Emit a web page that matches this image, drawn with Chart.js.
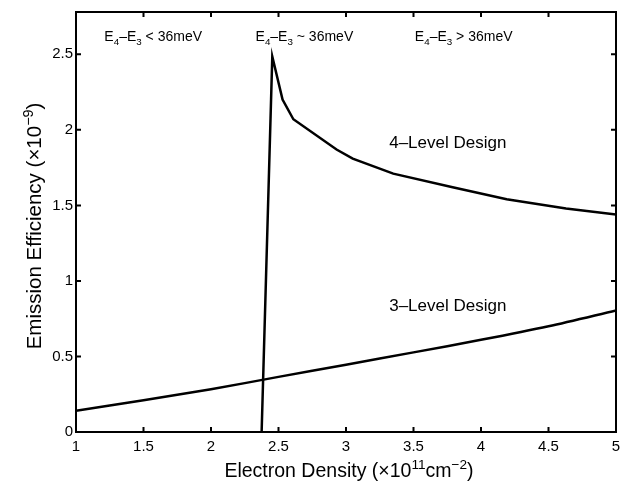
<!DOCTYPE html>
<html><head><meta charset="utf-8">
<script src="https://cdn.jsdelivr.net/npm/chart.js@4"></script>
<style>html,body{margin:0;padding:0;background:#fff}#wrap{width:628px;height:489px}</style>
</head><body><div id="wrap"><canvas id="c" width="628" height="489"></canvas></div>
<script>
// ---- data ----
const xTickValues = [1, 1.5, 2, 2.5, 3, 3.5, 4, 4.5, 5];
const yTickValues = [0, 0.5, 1, 1.5, 2, 2.5];
const density4Level = [2.375, 2.454, 2.53, 2.61, 2.93, 3.05, 3.35, 3.79, 4.19, 4.63, 5.0];
const efficiency4Level = [0, 2.485, 2.20, 2.07, 1.87, 1.81, 1.71, 1.62, 1.54, 1.48, 1.44];
const density3Level = [1, 1.5, 2, 2.5, 3, 3.5, 4, 4.5, 5];
const efficiency3Level = [0.14, 0.21, 0.283, 0.365, 0.445, 0.527, 0.61, 0.70, 0.805];

// ---- text (segments: 0 normal, 1 superscript, -1 subscript) ----
const xTitle = [["Electron Density (\u00d710", 0], ["11", 1], ["cm", 0], ["\u22122", 1], [")", 0]];
const yTitle = [["Emission Efficiency (\u00d710", 0], ["\u22129", 1], [")", 0]];
const regionLabels = [
  [["E", 0], ["4", -1], ["\u2013E", 0], ["3", -1], [" < 36meV", 0]],
  [["E", 0], ["4", -1], ["\u2013E", 0], ["3", -1], [" ~ 36meV", 0]],
  [["E", 0], ["4", -1], ["\u2013E", 0], ["3", -1], [" > 36meV", 0]]
];
const designLabels = [[["4\u2013Level Design", 0]], [["3\u2013Level Design", 0]]];

// ---- layout / style (not data) ----
const FONT = '"Liberation Sans", Arial, Helvetica, sans-serif';
const regionAnchors = [[1.21, 2.62], [2.33, 2.62], [3.51, 2.62]];
const designAnchors = [[3.32, 1.92], [3.32, 0.84]];

function fontStr(size) { return size + 'px ' + FONT; }
function richWidth(ctx, segs, size) {
  let w = 0;
  for (const [t, m] of segs) { ctx.font = fontStr(m ? size * 0.7 : size); w += ctx.measureText(t).width; }
  return w;
}
function drawRich(ctx, segs, x, yc, size, align) {
  const w = richWidth(ctx, segs, size);
  let cx = align === 'center' ? x - w / 2 : x;
  const base = yc + size * 0.35;
  ctx.textBaseline = 'alphabetic';
  ctx.textAlign = 'left';
  for (const [t, m] of segs) {
    const s = m ? size * 0.7 : size;
    ctx.font = fontStr(s);
    const dy = m === 1 ? -size * 0.42 : (m === -1 ? size * 0.28 : 0);
    ctx.fillText(t, cx, base + dy);
    cx += ctx.measureText(t).width;
  }
}

const framePlugin = {
  id: 'frame',
  afterDatasetsDraw(chart) {
    const { ctx, chartArea: a, scales: { x, y } } = chart;
    ctx.save();
    ctx.strokeStyle = '#000';
    ctx.fillStyle = '#000';
    ctx.lineWidth = 2;
    ctx.strokeRect(a.left, a.top, a.right - a.left, a.bottom - a.top);
    const tl = 5;
    ctx.beginPath();
    for (const v of xTickValues) {
      const px = x.getPixelForValue(v);
      ctx.moveTo(px, a.bottom); ctx.lineTo(px, a.bottom - tl);
      ctx.moveTo(px, a.top); ctx.lineTo(px, a.top + tl);
    }
    for (const v of yTickValues) {
      const py = y.getPixelForValue(v);
      ctx.moveTo(a.left, py); ctx.lineTo(a.left + tl, py);
      ctx.moveTo(a.right, py); ctx.lineTo(a.right - tl, py);
    }
    ctx.stroke();
    regionLabels.forEach((segs, i) => {
      drawRich(ctx, segs, x.getPixelForValue(regionAnchors[i][0]), y.getPixelForValue(regionAnchors[i][1]), 14, 'left');
    });
    designLabels.forEach((segs, i) => {
      drawRich(ctx, segs, x.getPixelForValue(designAnchors[i][0]), y.getPixelForValue(designAnchors[i][1]), 17, 'left');
    });
    drawRich(ctx, xTitle, (a.left + a.right) / 2 + 3, 470, 19.5, 'center');
    ctx.translate(34, (a.top + a.bottom) / 2 + 4);
    ctx.rotate(-Math.PI / 2);
    drawRich(ctx, yTitle, 0, 0, 20.5, 'center');
    ctx.restore();
  }
};

const tickFont = { family: FONT, size: 15 };
new Chart(document.getElementById('c'), {
  type: 'line',
  data: {
    datasets: [
      { label: '4-Level Design', data: density4Level.map((d, i) => ({ x: d, y: efficiency4Level[i] })),
        borderColor: '#000', borderWidth: 2.5, pointRadius: 0, tension: 0, fill: false },
      { label: '3-Level Design', data: density3Level.map((d, i) => ({ x: d, y: efficiency3Level[i] })),
        borderColor: '#000', borderWidth: 2.5, pointRadius: 0, tension: 0.3, fill: false }
    ]
  },
  options: {
    responsive: false,
    animation: false,
    devicePixelRatio: 1,
    layout: { padding: { left: 0, right: 12, top: 12, bottom: 0 } },
    plugins: { legend: { display: false }, tooltip: { enabled: false } },
    scales: {
      x: {
        type: 'linear', min: 1, max: 5,
        afterBuildTicks: s => { s.ticks = xTickValues.map(v => ({ value: v })); },
        afterFit: s => { s.height = 57; },
        grid: { display: false, drawTicks: false },
        border: { display: false },
        ticks: { font: tickFont, color: '#000', padding: 6, maxRotation: 0, autoSkip: false, callback: v => String(v) }
      },
      y: {
        type: 'linear', min: 0, max: 2.78,
        afterBuildTicks: s => { s.ticks = yTickValues.map(v => ({ value: v })); },
        afterFit: s => { s.width = 76; },
        grid: { display: false, drawTicks: false },
        border: { display: false },
        ticks: { font: tickFont, color: '#000', padding: 3, autoSkip: false, callback: v => String(v) }
      }
    }
  },
  plugins: [framePlugin]
});
</script></body></html>
